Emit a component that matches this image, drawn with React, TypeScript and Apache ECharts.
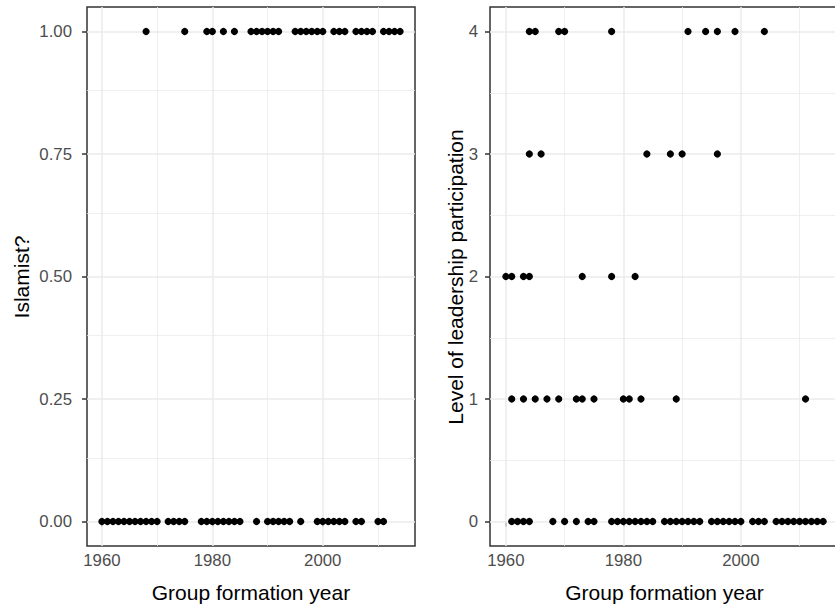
import { useEffect, useRef } from "react";
import * as echarts from "echarts";

// Formation years of groups, split by Islamist flag (1 = yes, 0 = no)
const islamistYears = [
  1968, 1975, 1979, 1980, 1982, 1984, 1987, 1988, 1989, 1990, 1991, 1992,
  1995, 1996, 1997, 1998, 1999, 2000, 2002, 2003, 2004, 2006, 2007, 2008,
  2009, 2011, 2012, 2013, 2014,
];
const nonIslamistYears = [
  1960, 1961, 1962, 1963, 1964, 1965, 1966, 1967, 1968, 1969, 1970, 1972,
  1973, 1974, 1975, 1978, 1979, 1980, 1981, 1982, 1983, 1984, 1985, 1988,
  1990, 1991, 1992, 1993, 1994, 1996, 1999, 2000, 2001, 2002, 2003, 2004,
  2006, 2007, 2010, 2011,
];

// Formation years by level of leadership participation
const level4Years = [1964, 1965, 1969, 1970, 1978, 1991, 1994, 1996, 1999, 2004];
const level3Years = [1964, 1966, 1984, 1988, 1990, 1996];
const level2Years = [1960, 1961, 1963, 1964, 1973, 1978, 1982];
const level1Years = [
  1961, 1963, 1965, 1967, 1969, 1972, 1973, 1975, 1980, 1981, 1983, 1989, 2011,
];
const level0Years = [
  1961, 1962, 1963, 1964, 1968, 1970, 1972, 1974, 1975, 1978, 1979, 1980,
  1981, 1982, 1983, 1984, 1985, 1987, 1988, 1989, 1990, 1991, 1992, 1993,
  1995, 1996, 1997, 1998, 1999, 2000, 2002, 2003, 2004, 2006, 2007, 2008,
  2009, 2010, 2011, 2012, 2013, 2014,
];

// Breaks
const xBreaks = [1960, 1980, 2000];
const xMinorBreaks = [1970, 1990, 2010];
const islamistBreaks = [0, 0.25, 0.5, 0.75, 1];
const islamistMinorBreaks = [0.125, 0.375, 0.625, 0.875];
const levelBreaks = [0, 1, 2, 3, 4];
const levelMinorBreaks = [0.5, 1.5, 2.5, 3.5];

const FONT = '"Liberation Sans", Arial, Helvetica, sans-serif';
const GRID_COLOR = "#EBEBEB";
const INK = "#333333";
const TICK_TEXT = "#4D4D4D";
const TICK_SIZE = 16.8;
const TITLE_SIZE = 21;

// 5% padding on each side of the data range
function expand(lo: number, hi: number): [number, number] {
  const pad = (hi - lo) * 0.05;
  return [lo - pad, hi + pad];
}

function panelGrid(idx: number, yMajor: number[], yMinor: number[]) {
  const line = (key: string, v: number, width: number) => ({
    [key]: v,
    lineStyle: { color: GRID_COLOR, width, type: "solid" },
  });
  return {
    type: "scatter",
    xAxisIndex: idx,
    yAxisIndex: idx,
    data: [],
    z: 1,
    silent: true,
    markLine: {
      z: 1,
      silent: true,
      symbol: ["none", "none"],
      label: { show: false },
      emphasis: { disabled: true },
      animation: false,
      data: [
        ...xMinorBreaks.map((v) => line("xAxis", v, 0.8)),
        ...yMinor.map((v) => line("yAxis", v, 0.8)),
        ...xBreaks.map((v) => line("xAxis", v, 1.5)),
        ...yMajor.map((v) => line("yAxis", v, 1.5)),
      ],
    },
  };
}

function points(idx: number, rows: [number[], number][]) {
  return {
    type: "scatter",
    xAxisIndex: idx,
    yAxisIndex: idx,
    z: 10,
    silent: true,
    symbol: "circle",
    symbolSize: 7.2,
    itemStyle: { color: "#000000", opacity: 1 },
    data: rows.flatMap(([years, v]) => years.map((y) => [y, v])),
  };
}

export default function App() {
  const ref = useRef<HTMLDivElement>(null);

  useEffect(() => {
    if (!ref.current) return;
    const chart = echarts.init(ref.current, undefined, { renderer: "svg" });

    const allYears = [
      ...islamistYears,
      ...nonIslamistYears,
      ...level0Years,
      ...level1Years,
      ...level2Years,
      ...level3Years,
      ...level4Years,
    ];
    const [xLo, xHi] = expand(Math.min(...allYears), Math.max(...allYears));
    const [iLo, iHi] = expand(0, 1);
    const [lLo, lHi] = expand(0, 4);

    const xAxis = (idx: number) => ({
      type: "value",
      gridIndex: idx,
      min: xLo,
      max: xHi,
      axisLine: { show: false },
      axisTick: {
        show: true,
        customValues: xBreaks,
        length: 5,
        lineStyle: { color: INK, width: 1.5 },
      },
      axisLabel: {
        show: true,
        customValues: xBreaks,
        color: TICK_TEXT,
        fontSize: TICK_SIZE,
        fontFamily: FONT,
        margin: 6,
        formatter: (v: number) => String(Math.round(Number(v))),
      },
      splitLine: { show: false },
      minorSplitLine: { show: false },
    });

    const yAxis = (
      idx: number,
      lo: number,
      hi: number,
      breaks: number[],
      fmt: (v: number) => string,
      margin: number
    ) => ({
      type: "value",
      gridIndex: idx,
      min: lo,
      max: hi,
      axisLine: { show: false },
      axisTick: {
        show: true,
        customValues: breaks,
        length: 5,
        lineStyle: { color: INK, width: 1.5 },
      },
      axisLabel: {
        show: true,
        customValues: breaks,
        color: TICK_TEXT,
        fontSize: TICK_SIZE,
        fontFamily: FONT,
        margin,
        formatter: fmt,
      },
      splitLine: { show: false },
      minorSplitLine: { show: false },
    });

    const panelBox = {
      show: true,
      borderColor: INK,
      borderWidth: 1.5,
      backgroundColor: "#ffffff",
      outerBoundsMode: "none",
      containLabel: false,
    };

    chart.setOption({
      animation: false,
      backgroundColor: "#ffffff",
      textStyle: { fontFamily: FONT },
      grid: [
        { ...panelBox, left: 87, top: 7, width: 328, height: 539 },
        { ...panelBox, left: 490, top: 7, width: 349, height: 539 },
      ],
      xAxis: [xAxis(0), xAxis(1)],
      yAxis: [
        yAxis(0, iLo, iHi, islamistBreaks, (v) => Number(v).toFixed(2), 15),
        yAxis(1, lLo, lHi, levelBreaks, (v) => String(Math.round(Number(v))), 12),
      ],
      series: [
        panelGrid(0, islamistBreaks, islamistMinorBreaks),
        panelGrid(1, levelBreaks, levelMinorBreaks),
        points(0, [
          [islamistYears, 1],
          [nonIslamistYears, 0],
        ]),
        points(1, [
          [level4Years, 4],
          [level3Years, 3],
          [level2Years, 2],
          [level1Years, 1],
          [level0Years, 0],
        ]),
      ],
      graphic: [
        {
          type: "text",
          x: 251,
          y: 592,
          style: {
            text: "Group formation year",
            align: "center",
            verticalAlign: "middle",
            fontSize: TITLE_SIZE,
            fontFamily: FONT,
            fill: "#000000",
          },
        },
        {
          type: "text",
          x: 664.5,
          y: 592,
          style: {
            text: "Group formation year",
            align: "center",
            verticalAlign: "middle",
            fontSize: TITLE_SIZE,
            fontFamily: FONT,
            fill: "#000000",
          },
        },
        {
          type: "text",
          x: 21,
          y: 277,
          rotation: Math.PI / 2,
          style: {
            text: "Islamist?",
            align: "center",
            verticalAlign: "middle",
            fontSize: TITLE_SIZE,
            fontFamily: FONT,
            fill: "#000000",
          },
        },
        {
          type: "text",
          x: 455,
          y: 277,
          rotation: Math.PI / 2,
          style: {
            text: "Level of leadership participation",
            align: "center",
            verticalAlign: "middle",
            fontSize: TITLE_SIZE,
            fontFamily: FONT,
            fill: "#000000",
          },
        },
      ],
    });

    return () => chart.dispose();
  }, []);

  return (
    <div
      ref={ref}
      style={{
        position: "fixed",
        left: 0,
        top: 0,
        width: 835,
        height: 609,
        background: "#ffffff",
      }}
    />
  );
}
